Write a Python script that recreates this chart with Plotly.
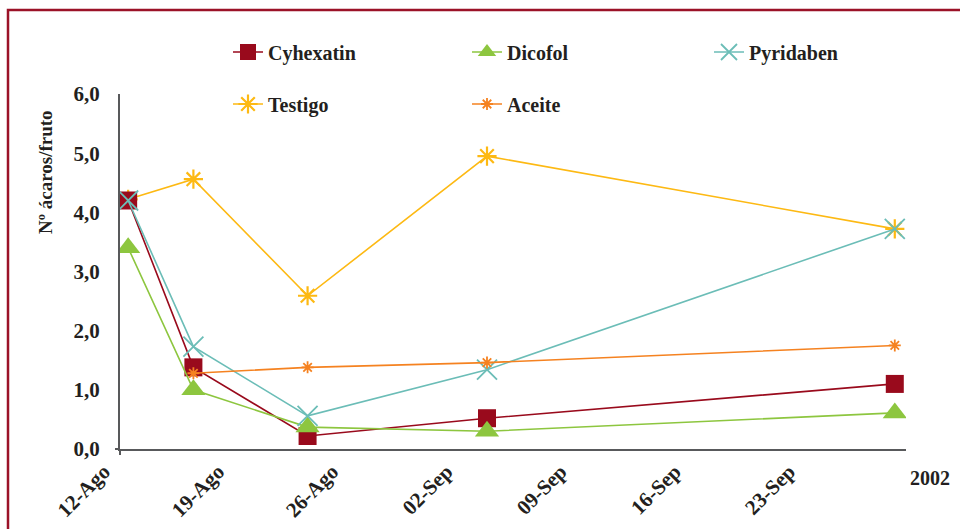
import pandas as pd
import plotly.graph_objects as go

# Sampling dates and mite counts per fruit for each treatment
dates = ["2002-08-12", "2002-08-16", "2002-08-23", "2002-09-03", "2002-09-28"]
cyhexatin = [4.20, 1.38, 0.22, 0.52, 1.10]
dicofol = [3.40, 1.00, 0.37, 0.30, 0.61]
pyridaben = [4.20, 1.73, 0.56, 1.34, 3.72]
testigo = [4.22, 4.56, 2.59, 4.95, 3.72]
aceite = [None, 1.28, 1.38, 1.46, 1.75]

# Weekly axis labels
tick_dates = ["2002-08-12", "2002-08-19", "2002-08-26", "2002-09-02",
              "2002-09-09", "2002-09-16", "2002-09-23"]
tick_text = ["12-Ago", "19-Ago", "26-Ago", "02-Sep", "09-Sep", "16-Sep", "23-Sep"]

# points sit in the middle of their day slot
x = pd.to_datetime(dates) + pd.Timedelta(hours=12)

FONT = "Liberation Serif"
TXT = "#231f20"
AXIS = "#58595b"

# plot area in pixels (used to place legends / notes in paper units)
L, T, W, H = 120, 94, 786, 355


def px_x(px):
    return (px - L) / W


def px_y(py):
    return (T + H - py) / H


fig = go.Figure()

series = [
    # name, values, color, symbol, size, marker line width, legend id, legend pos (px)
    ("Testigo", testigo, "#FDB913", "asterisk-open", 16, 2.2, "legend4", (228, 104)),
    ("Cyhexatin", cyhexatin, "#990A1C", "square", 18, 0, "legend", (228, 52)),
    ("Dicofol", dicofol, "#8DC63F", "triangle-up", 21, 0, "legend2", (467, 52)),
    ("Pyridaben", pyridaben, "#6BBDB7", "x-thin-open", 20, 1.8, "legend3", (709, 52)),
    ("Aceite", aceite, "#F58220", "asterisk-open", 10, 1.8, "legend5", (467, 104)),
]

legends = {}
for name, vals, color, symbol, size, mlw, leg, (lx, ly) in series:
    marker = dict(symbol=symbol, size=size, color=color)
    if mlw:
        marker["line"] = dict(color=color, width=mlw)
    fig.add_trace(go.Scatter(
        x=x, y=vals, name=name, mode="lines+markers",
        line=dict(color=color, width=1.6),
        marker=marker, legend=leg,
    ))
    legends[leg] = dict(
        x=px_x(lx), y=px_y(ly), xanchor="left", yanchor="middle",
        orientation="h",
        font=dict(family=FONT, size=20, color=TXT, weight="bold"),
        bgcolor="rgba(0,0,0,0)",
    )

fig.update_layout(
    width=960, height=529,
    margin=dict(l=L, r=960 - L - W, t=T, b=529 - T - H),
    paper_bgcolor="white", plot_bgcolor="white",
    separators=",.",
    showlegend=True,
    **legends,
    xaxis=dict(
        type="date",
        range=["2002-08-12", "2002-09-29 04:30"],
        tickvals=tick_dates, ticktext=tick_text,
        tickangle=-45, automargin=False,
        tickfont=dict(family=FONT, size=21, color=TXT, weight="bold"),
        showgrid=False, zeroline=False,
        showline=True, linecolor=AXIS, linewidth=2,
        ticks="", ticklabelshift=-16, ticklabelstandoff=0,
    ),
    yaxis=dict(
        range=[0, 6], dtick=1, tickformat=".1f", automargin=False,
        tickfont=dict(family=FONT, size=21, color=TXT, weight="bold"),
        showgrid=False, zeroline=False,
        showline=True, linecolor=AXIS, linewidth=2,
        ticks="", ticklabelstandoff=14,
    ),
    annotations=[
        dict(text="Nº ácaros/fruto", textangle=-90,
             x=px_x(45), y=px_y(172), xanchor="center", yanchor="middle",
             xref="paper", yref="paper", showarrow=False,
             font=dict(family=FONT, size=19, color=TXT, weight="bold")),
        dict(text="2002", x=px_x(930), y=px_y(478),
             xanchor="center", yanchor="middle",
             xref="paper", yref="paper", showarrow=False,
             font=dict(family=FONT, size=20, color=TXT, weight="bold")),
    ],
    shapes=[
        # frame around the figure
        dict(type="rect", xref="paper", yref="paper",
             x0=px_x(8), x1=1.3, y0=-0.6, y1=px_y(10),
             line=dict(color="#9B1228", width=2.5), layer="below"),
        # axes crossing stubs at the origin
        dict(type="line", xref="paper", yref="paper",
             x0=px_x(115), x1=0, y0=0, y1=0,
             line=dict(color=AXIS, width=2)),
        dict(type="line", xref="paper", yref="paper",
             x0=0, x1=0, y0=0, y1=px_y(455),
             line=dict(color=AXIS, width=2)),
    ],
)

fig.write_html("out.html")
